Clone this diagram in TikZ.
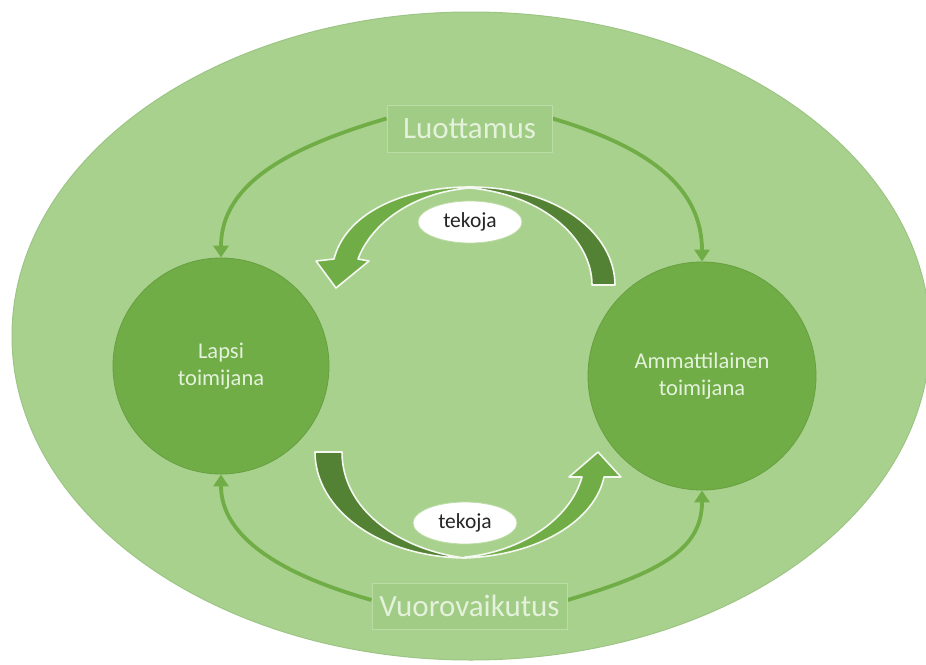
\documentclass[tikz,border=0pt]{standalone}
\usepackage{fontspec}
\setmainfont{Carlito}
\usetikzlibrary{arrows.meta,shapes.geometric}
\pgfdeclarelayer{bglayer}
\pgfsetlayers{bglayer,main}
\definecolor{bgell}{HTML}{A9D18E}
\definecolor{bgedge}{HTML}{9CC483}
\definecolor{cgreen}{HTML}{70AD47}
\definecolor{cedge}{HTML}{66A040}
\definecolor{dgreen}{HTML}{548235}
\definecolor{boxfill}{HTML}{A1CC85}
\definecolor{boxedge}{HTML}{BCDCA6}
\definecolor{paletxt}{HTML}{E4F1DB}
\definecolor{darktxt}{HTML}{262626}
\begin{document}
\begin{tikzpicture}[x=1pt,y=-1pt,
  actor/.style={circle, fill=cgreen, draw=cedge, line width=0.8pt, text=paletxt,
    align=center, font=\fontsize{22.5}{27}\selectfont, inner sep=0pt},
  lbl/.style={rectangle, fill=boxfill, draw=boxedge, line width=1pt, text=paletxt,
    font=\fontsize{31}{34}\selectfont, inner sep=0pt},
  tek/.style={ellipse, fill=white, draw=boxedge, line width=0.8pt, text=darktxt,
    font=\fontsize{21.5}{25}\selectfont, minimum width=104pt, minimum height=42pt, inner sep=0pt},
  conn/.style={draw=cgreen, line width=3.8pt, -{Triangle[width=15pt,length=12pt]}},
  blockarrow/.style={draw=white!92!cgreen, line width=1.6pt, line join=round}]
\useasboundingbox (0,0) rectangle (926,664);
\clip (0,0) rectangle (926,664);
\begin{pgfonlayer}{bglayer}
\fill[white] (0,0) rectangle (926,664);
\filldraw[fill=bgell, draw=bgedge, line width=1pt] (471,336) ellipse [x radius=459, y radius=324];
\end{pgfonlayer}

% nodes
\node[actor, minimum size=216pt] (lapsi) at (221,366) {Lapsi\\toimijana};
\node[actor, minimum size=228pt] (amm) at (702,376) {Ammattilainen\\toimijana};
\node[lbl, minimum width=165pt, minimum height=47pt] (lu) at (469.5,128.5) {Luottamus};
\node[lbl, minimum width=195pt, minimum height=46pt] (vu) at (469.5,606) {Vuorovaikutus};

% connectors (under the label boxes)
\begin{pgfonlayer}{bglayer}
\draw[conn] ([yshift=10pt]lu.west) .. controls +(-95,28) and +(0,-75) .. (lapsi.north);
\draw[conn] ([yshift=10pt]lu.east) .. controls +(95,28) and +(0,-75) .. (amm.north);
\draw[conn] ([yshift=6pt]vu.west) .. controls +(-92,-26) and +(0,62) .. (lapsi.south);
\draw[conn] ([yshift=6pt]vu.east) .. controls +(95,-28) and +(0,58) .. (amm.south);
\end{pgfonlayer}

% top curved block arrow
\filldraw[blockarrow, fill=dgreen] (470,187) .. controls (560,187) and (615,235) .. (615,285)
  -- (592,285) .. controls (592,240) and (545,195) .. (470,188) -- cycle;
\filldraw[blockarrow, fill=cgreen] (470,187) .. controls (400,187) and (345,215) .. (334,259)
  -- (316,261) -- (336,288) -- (369,261) -- (358,259)
  .. controls (372,222) and (415,192) .. (470,188) -- cycle;

% bottom curved block arrow
\filldraw[blockarrow, fill=dgreen] (315,452) .. controls (315,510) and (380,557) .. (465,558)
  .. controls (400,550) and (342,510) .. (342,452) -- cycle;
\filldraw[blockarrow, fill=cgreen] (465,558) .. controls (540,555) and (595,520) .. (604,477)
  -- (621,477) -- (598,452) -- (569,477) -- (582,477)
  .. controls (570,520) and (520,552) .. (465,557) -- cycle;

\node[tek] (t1) at (470,222) {tekoja};
\node[tek] (t2) at (465,523) {tekoja};
\end{tikzpicture}
\end{document}
